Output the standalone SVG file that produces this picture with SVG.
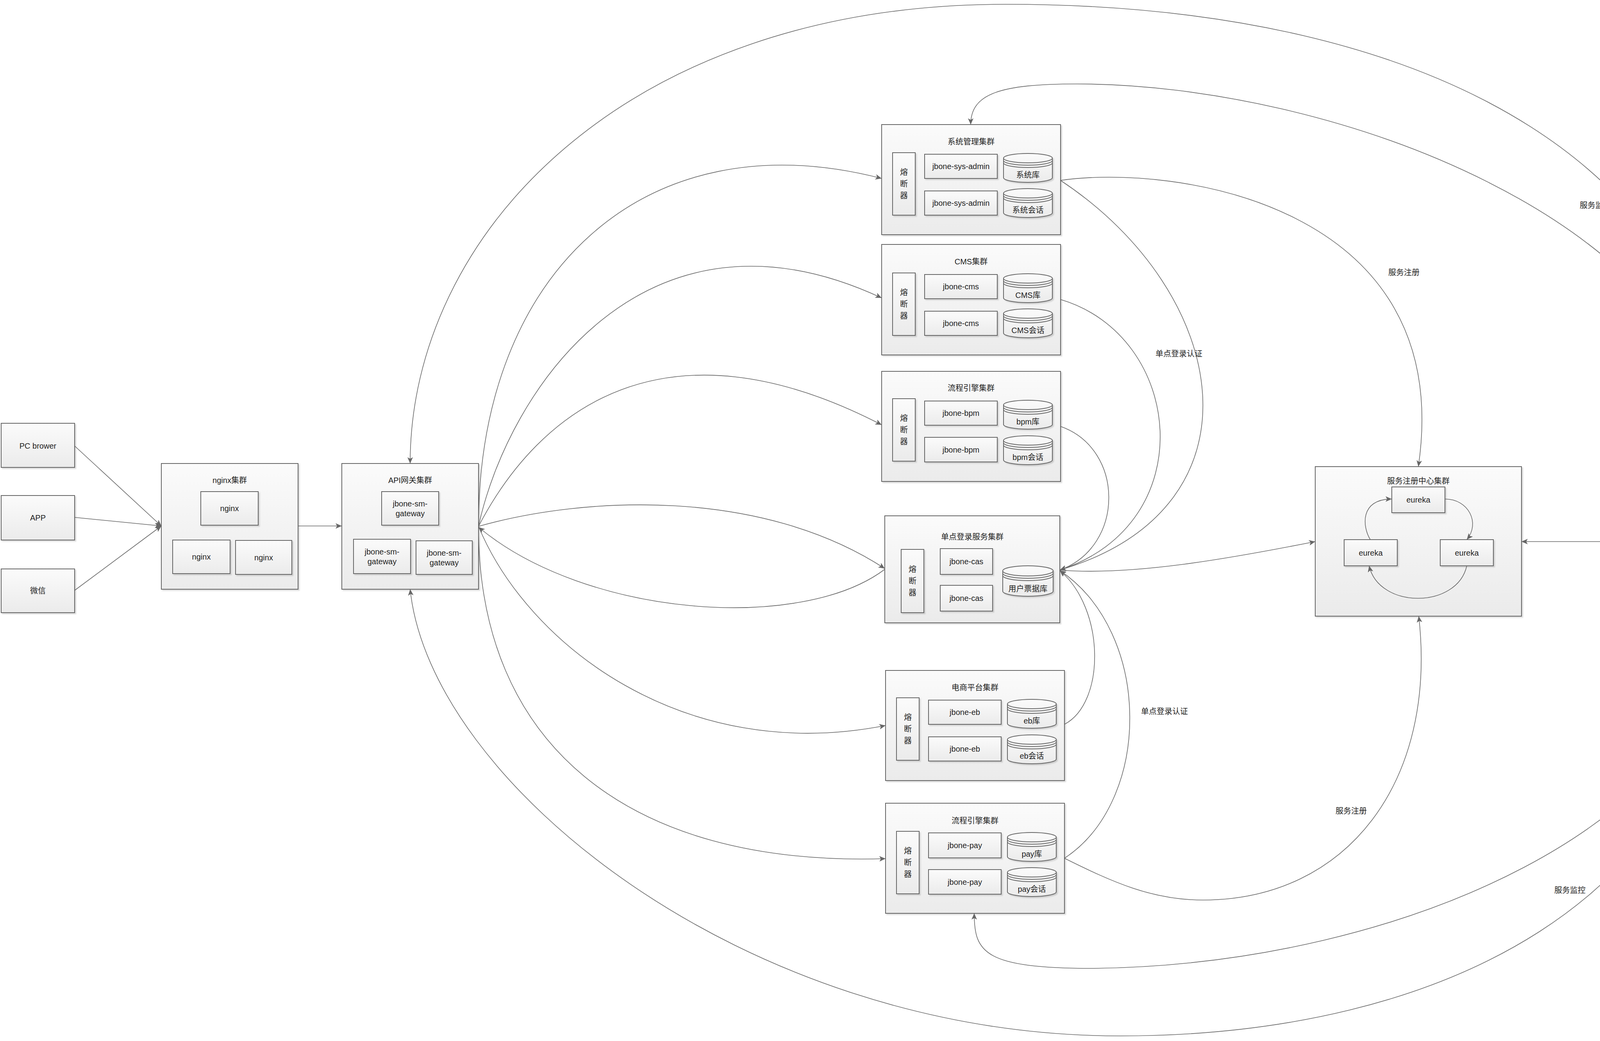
<svg xmlns="http://www.w3.org/2000/svg" xmlns:xlink="http://www.w3.org/1999/xlink" width="4686" height="2666" viewBox="0 0 4686 2666">
<defs>
<style>
.box{fill:url(#gr);stroke:#666666;stroke-width:2;filter:url(#sh)}
.cyl{fill:url(#gr);stroke:#666666;stroke-width:2;filter:url(#sh)}
.cl{fill:none;stroke:#666666;stroke-width:2}
.t{font-family:"Liberation Sans","Noto Sans CJK SC",sans-serif;font-size:20px;fill:#1e1e1e;text-anchor:middle;dominant-baseline:central}
.e{fill:none;stroke:#666666;stroke-width:1.6;marker-end:url(#arr)}
</style>
<linearGradient id="gr" x1="0" y1="0" x2="0" y2="1">
<stop offset="0" stop-color="#fbfbfb"/>
<stop offset="1" stop-color="#ebebeb"/>
</linearGradient>
<filter id="sh" x="-5%" y="-5%" width="115%" height="115%">
<feDropShadow dx="3" dy="3" stdDeviation="1.5" flood-color="#000000" flood-opacity="0.15"/>
</filter>
<marker id="arr" markerUnits="userSpaceOnUse" markerWidth="18" markerHeight="14" refX="16" refY="7" orient="auto">
<path d="M0,0 L16,7 L0,14 L4,7 Z" fill="#666666"/>
</marker>
<g id="cy">
<path class="cyl" d="M0,12 A62.5,12 0 0 1 125,12 L125,62 A62.5,12 0 0 1 0,62 Z"/>
<path class="cl" d="M0,12 A62.5,12 0 0 0 125,12 M0,18 A62.5,12 0 0 0 125,18 M0,24 A62.5,12 0 0 0 125,24"/>
</g>
</defs>
<rect x="0" y="0" width="4686" height="2666" fill="#ffffff"/>

<g id="pc">
<rect class="box" x="3" y="1084" width="188" height="113"/>
<text class="t" x="97" y="1142">PC brower</text>
</g>
<g id="app">
<rect class="box" x="3" y="1269" width="188" height="114"/>
<text class="t" x="97" y="1326">APP</text>
</g>
<g id="weixin">
<rect class="box" x="3" y="1457" width="188" height="112"/>
<text class="t" x="97" y="1513">微信</text>
</g>

<g id="nginx-cluster">
<rect class="box" x="413" y="1187" width="350" height="322"/>
<text class="t" x="588" y="1230">nginx集群</text>
<rect class="box" x="514" y="1259" width="147" height="86"/>
<text class="t" x="587.5" y="1302">nginx</text>
<rect class="box" x="442" y="1383" width="147" height="86"/>
<text class="t" x="515.5" y="1426">nginx</text>
<rect class="box" x="603" y="1384" width="144" height="87"/>
<text class="t" x="675" y="1427.5">nginx</text>
</g>

<g id="api-cluster">
<rect class="box" x="875" y="1187" width="350" height="322"/>
<text class="t" x="1050" y="1230">API网关集群</text>
<rect class="box" x="977" y="1259" width="146" height="86"/>
<text class="t" x="1050" y="1290">jbone-sm-</text>
<text class="t" x="1050" y="1315">gateway</text>
<rect class="box" x="905" y="1381" width="146" height="88"/>
<text class="t" x="978" y="1412.5">jbone-sm-</text>
<text class="t" x="978" y="1437.5">gateway</text>
<rect class="box" x="1065" y="1385" width="144" height="86"/>
<text class="t" x="1137" y="1415.5">jbone-sm-</text>
<text class="t" x="1137" y="1440.5">gateway</text>
</g>

<g id="sys-cluster">
<rect class="box" x="2257" y="319" width="458" height="282"/>
<text class="t" x="2486" y="363">系统管理集群</text>
<rect class="box" x="2285" y="391" width="58" height="160"/>
<text class="t" x="2314" y="441">熔</text>
<text class="t" x="2314" y="471">断</text>
<text class="t" x="2314" y="501">器</text>
<rect class="box" x="2367" y="395" width="186" height="62"/>
<text class="t" x="2460" y="426">jbone-sys-admin</text>
<rect class="box" x="2367" y="489" width="186" height="62"/>
<text class="t" x="2460" y="520">jbone-sys-admin</text>
<use xlink:href="#cy" x="2569" y="393"/>
<text class="t" x="2631.5" y="448">系统库</text>
<use xlink:href="#cy" x="2569" y="483"/>
<text class="t" x="2631.5" y="538">系统会话</text>
</g>

<g id="cms-cluster">
<rect class="box" x="2257" y="626" width="458" height="283"/>
<text class="t" x="2486" y="670">CMS集群</text>
<rect class="box" x="2285" y="699" width="58" height="160"/>
<text class="t" x="2314" y="749">熔</text>
<text class="t" x="2314" y="779">断</text>
<text class="t" x="2314" y="809">器</text>
<rect class="box" x="2367" y="703" width="186" height="62"/>
<text class="t" x="2460" y="734">jbone-cms</text>
<rect class="box" x="2367" y="797" width="186" height="62"/>
<text class="t" x="2460" y="828">jbone-cms</text>
<use xlink:href="#cy" x="2569" y="701"/>
<text class="t" x="2631.5" y="756">CMS库</text>
<use xlink:href="#cy" x="2569" y="791"/>
<text class="t" x="2631.5" y="846">CMS会话</text>
</g>

<g id="bpm-cluster">
<rect class="box" x="2257" y="951" width="458" height="282"/>
<text class="t" x="2486" y="994">流程引擎集群</text>
<rect class="box" x="2285" y="1021" width="58" height="160"/>
<text class="t" x="2314" y="1071">熔</text>
<text class="t" x="2314" y="1101">断</text>
<text class="t" x="2314" y="1131">器</text>
<rect class="box" x="2367" y="1027" width="186" height="62"/>
<text class="t" x="2460" y="1058">jbone-bpm</text>
<rect class="box" x="2367" y="1120" width="186" height="63"/>
<text class="t" x="2460" y="1151.5">jbone-bpm</text>
<use xlink:href="#cy" x="2569" y="1025"/>
<text class="t" x="2631.5" y="1080">bpm库</text>
<use xlink:href="#cy" x="2569" y="1116"/>
<text class="t" x="2631.5" y="1171">bpm会话</text>
</g>

<g id="sso-cluster">
<rect class="box" x="2265" y="1321" width="448" height="274"/>
<text class="t" x="2489" y="1375">单点登录服务集群</text>
<rect class="box" x="2307" y="1407" width="58" height="162"/>
<text class="t" x="2336" y="1458">熔</text>
<text class="t" x="2336" y="1488">断</text>
<text class="t" x="2336" y="1518">器</text>
<rect class="box" x="2407" y="1405" width="134" height="66"/>
<text class="t" x="2474" y="1438">jbone-cas</text>
<rect class="box" x="2407" y="1499" width="134" height="66"/>
<text class="t" x="2474" y="1532">jbone-cas</text>
<path class="cyl" d="M2567,1462 A64.5,13 0 0 1 2696,1462 L2696,1514 A64.5,13 0 0 1 2567,1514 Z"/>
<path class="cl" d="M2567,1462 A64.5,13 0 0 0 2696,1462 M2567,1468 A64.5,13 0 0 0 2696,1468 M2567,1474 A64.5,13 0 0 0 2696,1474"/>
<text class="t" x="2631.5" y="1508">用户票据库</text>
</g>

<g id="eb-cluster">
<rect class="box" x="2267" y="1717" width="458" height="282"/>
<text class="t" x="2496" y="1761">电商平台集群</text>
<rect class="box" x="2295" y="1787" width="58" height="160"/>
<text class="t" x="2324" y="1837">熔</text>
<text class="t" x="2324" y="1867">断</text>
<text class="t" x="2324" y="1897">器</text>
<rect class="box" x="2377" y="1793" width="186" height="62"/>
<text class="t" x="2470" y="1824">jbone-eb</text>
<rect class="box" x="2377" y="1887" width="186" height="62"/>
<text class="t" x="2470" y="1918">jbone-eb</text>
<use xlink:href="#cy" x="2579" y="1791"/>
<text class="t" x="2641.5" y="1846">eb库</text>
<use xlink:href="#cy" x="2579" y="1882"/>
<text class="t" x="2641.5" y="1936">eb会话</text>
</g>

<g id="pay-cluster">
<rect class="box" x="2267" y="2057" width="458" height="282"/>
<text class="t" x="2496" y="2102">流程引擎集群</text>
<rect class="box" x="2295" y="2129" width="58" height="160"/>
<text class="t" x="2324" y="2179">熔</text>
<text class="t" x="2324" y="2209">断</text>
<text class="t" x="2324" y="2239">器</text>
<rect class="box" x="2377" y="2133" width="186" height="64"/>
<text class="t" x="2470" y="2165">jbone-pay</text>
<rect class="box" x="2377" y="2227" width="186" height="63"/>
<text class="t" x="2470" y="2258.5">jbone-pay</text>
<use xlink:href="#cy" x="2579" y="2132"/>
<text class="t" x="2641.5" y="2187">pay库</text>
<use xlink:href="#cy" x="2579" y="2222"/>
<text class="t" x="2641.5" y="2277">pay会话</text>
</g>

<g id="eureka-cluster">
<rect class="box" x="3367" y="1195" width="528" height="383"/>
<text class="t" x="3631" y="1232">服务注册中心集群</text>
<rect class="box" x="3563" y="1247" width="136" height="66"/>
<text class="t" x="3631" y="1280">eureka</text>
<rect class="box" x="3441" y="1382" width="136" height="67"/>
<text class="t" x="3509" y="1415.5">eureka</text>
<rect class="box" x="3687" y="1382" width="136" height="67"/>
<text class="t" x="3755" y="1415.5">eureka</text>
</g>

<g id="sm-cluster">
<rect class="box" x="4151" y="1195" width="528" height="383"/>
<text class="t" x="4415" y="1232">服务管理中心集群</text>
<rect class="box" x="4309" y="1279" width="212" height="66"/>
<text class="t" x="4415" y="1312">jbone-sm-admin</text>
<rect class="box" x="4187" y="1425" width="212" height="66"/>
<text class="t" x="4293" y="1458">jbone-sm-admin</text>
<rect class="box" x="4429" y="1425" width="212" height="66"/>
<text class="t" x="4535" y="1458">jbone-sm-admin</text>
</g>

<g id="connectors">
<path class="e" d="M191,1142 L413,1347"/>
<path class="e" d="M191,1325 L413,1347"/>
<path class="e" d="M191,1512 L413,1347"/>
<path class="e" d="M763,1347 L875,1347"/>
<path class="e" d="M1225,1348 C1225,700 1650,300 2257,457"/>
<path class="e" d="M1225,1348 C1300,1000 1650,480 2257,763"/>
<path class="e" d="M1225,1348 C1380,1050 1700,800 2257,1088"/>
<path class="e" d="M1225,1348 C1500,1270 1950,1250 2265,1456"/>
<path class="e" d="M2265,1458 C2050,1620 1500,1580 1225,1350"/>
<path class="e" d="M1225,1348 C1350,1650 1750,1960 2267,1858"/>
<path class="e" d="M1225,1348 C1225,1900 1600,2220 2267,2199"/>
<path class="e" d="M2715,462 C3000,420 3730,520 3631,1195"/>
<path class="e" d="M2715,462 C3150,750 3250,1300 2713,1460"/>
<path class="e" d="M2715,767 C3030,860 3080,1340 2713,1460"/>
<path class="e" d="M2715,1092 C2880,1150 2880,1400 2713,1460"/>
<path class="e" d="M2713,1460 C2900,1475 3150,1430 3367,1387"/>
<path class="e" d="M2725,1855 C2830,1800 2830,1560 2713,1461"/>
<path class="e" d="M2725,2198 C2950,2050 2950,1620 2713,1461"/>
<path class="e" d="M2725,2198 C2850,2260 2950,2305 3079,2305 C3450,2305 3680,2000 3632,1578"/>
<path class="e" d="M4415,1195 C4370,560 3400,215 2757,215 C2560,215 2485,240 2485,319"/>
<path class="e" d="M4415,1195 C4415,450 3700,11 2574,11 C1600,11 1050,600 1050,1187"/>
<path class="e" d="M4415,1578 C4400,2100 3600,2470 2800,2480 C2520,2480 2494,2440 2494,2339"/>
<path class="e" d="M4415,1578 C4380,2300 3700,2653 2868,2653 C1900,2653 1100,2000 1050,1509"/>
<path class="e" d="M4151,1387 L3895,1387"/>
<path class="e" d="M3508,1382 C3488,1350 3480,1278 3563,1278"/>
<path class="e" d="M3699,1278 C3760,1278 3790,1340 3755,1382"/>
<path class="e" d="M3755,1449 C3730,1560 3530,1560 3505,1449"/>
<text class="t" x="4084" y="526">服务监控</text>
<text class="t" x="3594" y="698">服务注册</text>
<text class="t" x="3018" y="906">单点登录认证</text>
<text class="t" x="2981" y="1822">单点登录认证</text>
<text class="t" x="3459" y="2077">服务注册</text>
<text class="t" x="4019" y="2280">服务监控</text>
</g>
</svg>
